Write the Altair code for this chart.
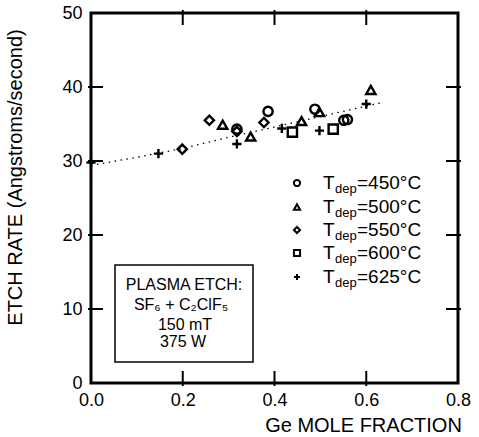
import altair as alt
import pandas as pd

# ---- data ----
series_labels = ["450", "500", "550", "600", "625"]
x450 = [0.386, 0.488, 0.551, 0.559, 0.318]
y450 = [36.7, 37.0, 35.5, 35.6, 34.3]
x500 = [0.287, 0.348, 0.459, 0.498, 0.610]
y500 = [34.9, 33.3, 35.4, 36.6, 39.6]
x550 = [0.199, 0.258, 0.318, 0.377]
y550 = [31.6, 35.5, 34.0, 35.2]
x600 = [0.439, 0.528]
y600 = [33.9, 34.3]
x625 = [0.0, 0.147, 0.318, 0.416, 0.498, 0.600]
y625 = [29.8, 31.0, 32.3, 34.4, 34.1, 37.7]

fit_x = [0.0, 0.1, 0.2, 0.3, 0.4, 0.5, 0.634]
fit_y = [29.4, 30.5, 31.7, 33.2, 34.6, 36.0, 37.9]

x_ticks = [0.0, 0.2, 0.4, 0.6, 0.8]
y_ticks = [0, 10, 20, 30, 40, 50]
x_inner_ticks = [0.2, 0.4, 0.6]
y_inner_ticks = [10, 20, 30, 40]

legend_texts = ["=450\u00b0C", "=500\u00b0C", "=550\u00b0C", "=600\u00b0C", "=625\u00b0C"]
box_lines = ["PLASMA ETCH:", "SF\u2086 + C\u2082ClF\u2085", "150 mT", "375 W"]

PLUS = "M-1,0L1,0M0,-1L0,1"
shapes = ["circle", "triangle-up", "diamond", "square", PLUS]

rows = []
for lab, xs_, ys_ in zip(series_labels, [x450, x500, x550, x600, x625],
                         [y450, y500, y550, y600, y625]):
    for a, b in zip(xs_, ys_):
        rows.append({"x": a, "y": b, "series": lab})
df = pd.DataFrame(rows)
fit_df = pd.DataFrame({"x": fit_x, "y": fit_y})

W, H = 367, 370
FONT = "Liberation Sans"
xs = alt.Scale(domain=[0, 0.8], nice=False, zero=False)
ys = alt.Scale(domain=[0, 50], nice=False, zero=False)

x_axis = alt.Axis(
    values=x_ticks, format=".1f", title="Ge MOLE FRACTION",
    labelPadding=8, labelFlush=False, titleX=272, titleY=42,
    titleBaseline="middle", titleAlign="center")
y_axis = alt.Axis(
    values=y_ticks, format="d", title="ETCH RATE (Angstroms/second)",
    labelPadding=9, labelFlush=False, titleX=-76, titleY=164, titleAngle=270,
    titleAlign="center", titleBaseline="middle")


def X(f):
    return alt.X(f, scale=xs, axis=x_axis)


def Y(f):
    return alt.Y(f, scale=ys, axis=y_axis)


points = alt.Chart(df).mark_point(
    filled=False, color="black", strokeWidth=2.4, size=85, opacity=1
).encode(
    x=X("x:Q"), y=Y("y:Q"),
    shape=alt.Shape("series:N", scale=alt.Scale(domain=series_labels, range=shapes),
                    legend=None),
)

fit = alt.Chart(fit_df).mark_line(
    strokeDash=[1.5, 4.5], strokeWidth=1.3, color="black"
).encode(x=X("x:Q"), y=Y("y:Q"))

xt = pd.DataFrame({"x": x_inner_ticks})
yt = pd.DataFrame({"y": y_inner_ticks})
tick_style = dict(color="black", strokeWidth=2)
top_ticks = alt.Chart(xt).mark_rule(**tick_style).encode(
    x=X("x:Q"), y=alt.value(-3), y2=alt.value(12))
bot_ticks = alt.Chart(xt).mark_rule(**tick_style).encode(
    x=X("x:Q"), y=alt.value(H - 12), y2=alt.value(H + 3))
left_ticks = alt.Chart(yt).mark_rule(**tick_style).encode(
    y=Y("y:Q"), x=alt.value(-3), x2=alt.value(12))
right_ticks = alt.Chart(yt).mark_rule(**tick_style).encode(
    y=Y("y:Q"), x=alt.value(W - 12), x2=alt.value(W + 3))

layers = [fit, points, top_ticks, bot_ticks, left_ticks, right_ticks]

# ---- legend (custom, with subscript) ----
one = pd.DataFrame({"k": [0]})
row_y = [170, 194, 217, 240, 264]
for shp, txt, ry in zip(shapes, legend_texts, row_y):
    layers.append(alt.Chart(one).mark_point(
        shape=shp, filled=False, color="black", strokeWidth=2, size=38, opacity=1
    ).encode(x=alt.value(206), y=alt.value(ry)))
    for t, px, dy, fs in [("T", 232, 0, 19), ("dep", 244, 6, 13), (txt, 266, 0, 19)]:
        layers.append(alt.Chart(pd.DataFrame({"t": [t]})).mark_text(
            align="left", baseline="middle", font=FONT, fontSize=fs, color="black"
        ).encode(x=alt.value(px), y=alt.value(ry + dy), text="t:N"))

# ---- annotation box ----
layers.append(alt.Chart(one).mark_rect(
    fill="white", stroke="black", strokeWidth=1.5
).encode(x=alt.value(24), x2=alt.value(162), y=alt.value(252), y2=alt.value(349)))
for t, px, py in zip(box_lines, [93, 90, 94, 92], [272, 292, 312, 329]):
    layers.append(alt.Chart(pd.DataFrame({"t": [t]})).mark_text(
        align="center", baseline="middle", font=FONT, fontSize=16, color="black"
    ).encode(x=alt.value(px), y=alt.value(py), text="t:N"))

chart = alt.layer(*layers).properties(
    width=W, height=H,
    autosize=alt.AutoSizeParams(type="none"),
    padding={"left": 91, "top": 13, "right": 21, "bottom": 54},
    background="white",
).configure_view(
    stroke="black", strokeWidth=3
).configure_axis(
    grid=False, ticks=False, tickSize=0, domain=False,
    labelFont=FONT, labelFontSize=18, labelColor="black",
    titleFont=FONT, titleFontSize=20, titleColor="black", titleFontWeight="normal",
)

chart.save("out.html", embed_options={"renderer": "svg", "actions": False})
